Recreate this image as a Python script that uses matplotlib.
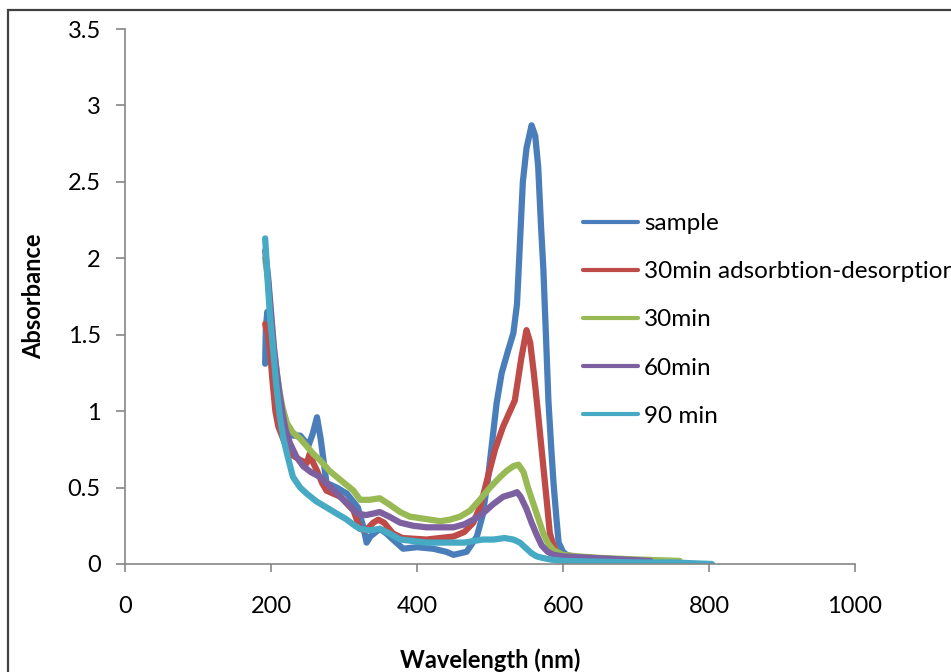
import matplotlib
matplotlib.use("Agg")
import matplotlib.pyplot as plt
from matplotlib.patches import Rectangle

plt.rcParams['font.family'] = ['Lato', 'DejaVu Sans']

# ---- data ----
sample_wl = [192, 193, 195, 198, 202, 206, 210, 216, 222, 230, 240, 247, 251, 257, 263, 268, 276,
             290, 304, 319, 326, 331, 336, 349, 358, 367, 381, 400, 422, 440, 450, 468, 482,
             490, 497, 503, 509, 516, 525, 532, 537, 541, 545, 550, 557, 562, 566, 570, 573,
             577, 580, 584, 587, 591, 594, 600, 605, 620, 650]
sample_abs = [1.31, 1.55, 1.65, 1.52, 1.30, 1.12, 1.00, 0.92, 0.87, 0.84, 0.84, 0.80, 0.77, 0.85, 0.96,
              0.82, 0.53, 0.50, 0.46, 0.37, 0.25, 0.14, 0.18, 0.23, 0.20, 0.16, 0.10, 0.11, 0.10,
              0.08, 0.06, 0.08, 0.18, 0.32, 0.55, 0.80, 1.05, 1.25, 1.40, 1.51, 1.70, 2.10, 2.50,
              2.72, 2.87, 2.80, 2.60, 2.20, 1.94, 1.45, 1.07, 0.75, 0.53, 0.30, 0.14, 0.08, 0.06,
              0.04, 0.03]

ads_wl = [192, 196, 199, 202, 206, 210, 219, 230, 240, 249, 253, 258, 263, 270, 276, 295, 313,
          322, 330, 340, 347, 355, 367, 380, 413, 450, 465, 477, 487, 496, 507, 518, 534, 543,
          550, 555, 560, 564, 573, 578, 582, 587, 591, 600, 620, 650, 700]
ads_abs = [1.57, 1.50, 1.38, 1.20, 1.00, 0.90, 0.79, 0.71, 0.68, 0.66, 0.72, 0.66, 0.61, 0.53, 0.48,
           0.44, 0.35, 0.23, 0.22, 0.27, 0.29, 0.27, 0.20, 0.17, 0.16, 0.18, 0.21, 0.27, 0.38, 0.55,
           0.75, 0.90, 1.07, 1.35, 1.53, 1.45, 1.25, 1.07, 0.64, 0.40, 0.20, 0.12, 0.08, 0.05, 0.04,
           0.03, 0.02]

m30_wl = [192, 196, 200, 204, 208, 212, 216, 222, 230, 240, 249, 258, 267, 280, 295, 313, 322, 335,
          349, 362, 377, 390, 404, 418, 432, 445, 459, 473, 486, 500, 514, 523, 532, 539, 546, 552,
          559, 566, 573, 580, 587, 600, 620, 650, 700, 760]
m30_abs = [2.00, 1.85, 1.62, 1.40, 1.25, 1.12, 1.02, 0.92, 0.86, 0.82, 0.77, 0.72, 0.68, 0.61, 0.55,
           0.48, 0.42, 0.42, 0.43, 0.39, 0.34, 0.31, 0.30, 0.29, 0.28, 0.29, 0.31, 0.35, 0.42, 0.50,
           0.57, 0.61, 0.64, 0.65, 0.60, 0.50, 0.40, 0.30, 0.20, 0.13, 0.09, 0.06, 0.05, 0.04, 0.03,
           0.02]

m60_wl = [192, 196, 200, 204, 208, 212, 216, 220, 226, 235, 244, 255, 267, 280, 295, 308, 318, 330,
          340, 349, 362, 377, 395, 413, 432, 450, 465, 477, 490, 504, 518, 532, 537, 542, 550, 557,
          564, 571, 579, 587, 600, 640, 680, 720]
m60_abs = [2.05, 1.88, 1.65, 1.42, 1.25, 1.10, 0.98, 0.88, 0.79, 0.70, 0.64, 0.60, 0.57, 0.51, 0.44,
           0.38, 0.33, 0.32, 0.33, 0.34, 0.31, 0.27, 0.25, 0.24, 0.24, 0.24, 0.26, 0.29, 0.33, 0.39,
           0.44, 0.46, 0.47, 0.44, 0.36, 0.27, 0.19, 0.12, 0.08, 0.06, 0.05, 0.04, 0.03, 0.02]

m90_wl = [192, 196, 199, 203, 207, 212, 217, 222, 230, 240, 249, 262, 276, 290, 304, 315, 322, 335,
          349, 362, 377, 395, 413, 432, 450, 465, 477, 490, 505, 520, 532, 541, 550, 557, 564, 572,
          582, 600, 650, 700, 750, 804]
m90_abs = [2.13, 1.81, 1.60, 1.40, 1.18, 0.97, 0.82, 0.72, 0.57, 0.50, 0.46, 0.41, 0.37, 0.33, 0.29,
           0.25, 0.23, 0.22, 0.23, 0.20, 0.16, 0.15, 0.14, 0.14, 0.14, 0.14, 0.15, 0.16, 0.16, 0.17,
           0.16, 0.14, 0.10, 0.07, 0.05, 0.04, 0.03, 0.02, 0.015, 0.01, 0.01, 0.0]

series_names = ["sample", "30min adsorbtion-desorption", "30min", "60min", "90 min"]
series_colors = ["#4A7EBB", "#BE4B48", "#98B954", "#7D60A0", "#46AAC5"]

x_ticks = [0, 200, 400, 600, 800, 1000]
y_ticks = [0, 0.5, 1, 1.5, 2, 2.5, 3, 3.5]
y_tick_labels = ["0", "0.5", "1", "1.5", "2", "2.5", "3", "3.5"]

# ---- figure ----
W, H = 951, 672
fig = plt.figure(figsize=(W / 100, H / 100), dpi=100)
ax = fig.add_axes([125 / W, 1 - 564 / H, 730 / W, 535 / H])

# outer chart border (extends past right/bottom edges)
fig.patches.append(Rectangle((8 / W, -0.1), 1.2, 1 - 10 / H + 0.1, transform=fig.transFigure,
                             fill=False, edgecolor="#404040", linewidth=1.6, zorder=0))

data = [(sample_wl, sample_abs), (ads_wl, ads_abs), (m30_wl, m30_abs),
        (m60_wl, m60_abs), (m90_wl, m90_abs)]
for (xs, ys), name, col in zip(data, series_names, series_colors):
    ax.plot(xs, ys, color=col, linewidth=4.5, label=name,
            solid_joinstyle="round", solid_capstyle="round")

ax.set_xlim(0, 1000)
ax.set_ylim(0, 3.5)
ax.set_xticks(x_ticks)
ax.set_xticklabels([str(t) for t in x_ticks])
ax.set_yticks(y_ticks)
ax.set_yticklabels(y_tick_labels)

for s in ["top", "right"]:
    ax.spines[s].set_visible(False)
for s in ["left", "bottom"]:
    ax.spines[s].set_color("#868686")
    ax.spines[s].set_linewidth(1.2)

FS = 17
ax.tick_params(axis="both", colors="#868686", labelcolor="black", labelsize=FS, width=1.2)
ax.tick_params(axis="y", length=6.5, pad=11)
ax.tick_params(axis="x", length=6, pad=17)

ax.set_xlabel("Wavelength (nm)", fontsize=FS, fontweight="bold")
ax.set_ylabel("Absorbance", fontsize=FS, fontweight="bold")
ax.xaxis.set_label_coords(0.5, -0.158)
ax.yaxis.set_label_coords(-0.11, 0.5)

leg = ax.legend(loc="upper left", bbox_to_anchor=(583 / W, 1 - 213 / H),
                bbox_transform=fig.transFigure, frameon=False, fontsize=17.5,
                handlelength=2.25, handletextpad=0.25, labelspacing=1.12,
                borderpad=0, borderaxespad=0)
for line in leg.get_lines():
    line.set_linewidth(3)

fig.savefig("out.png", dpi=100)
